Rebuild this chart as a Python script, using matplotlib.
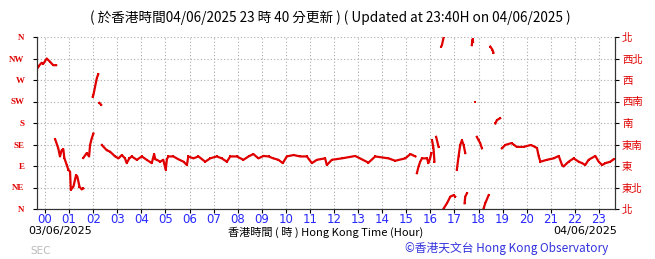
import matplotlib.pyplot as plt
import numpy as np

plt.rcParams['font.family'] = ['Noto Sans CJK TC', 'DejaVu Sans']

nan = np.nan

# wind direction (degrees) against hour of 04/06/2025; nan breaks a segment
hours = [-0.33, -0.25, -0.14, -0.07, 0.07, 0.21, 0.34, 0.46, nan,
         0.42, 0.55, 0.62, 0.69, 0.76, 0.80, 0.90, 0.97, 1.04, 1.07, 1.18, 1.29, 1.34, 1.43, 1.52, 1.59, nan,
         1.59, 1.73, 1.83, 1.87, 1.94, 2.01, nan,
         1.98, 2.01, 2.08, 2.15, 2.21, nan,
         2.26, 2.33, nan,
         2.36, 2.56, 2.70, 2.91, 3.05, 3.19, 3.32, 3.39, 3.50, 3.60, 3.81, 4.02, 4.22, 4.43, 4.53, 4.58,
         4.64, 4.78, 4.91, 5.01, 5.06, 5.12, 5.33, 5.54, 5.75, 5.89, 5.95, 6.16, 6.37, 6.65, 6.86, 7.13,
         7.34, 7.55, 7.69, 7.96, 8.24, 8.45, 8.65, 8.86, 9.07, 9.28, 9.48, 9.69, 9.87, 10.04, 10.32,
         10.59, 10.87, 11.08, 11.29, 11.63, 11.70, 11.91, 12.33, 12.88, 13.43, 13.71, 14.26, 14.54,
         14.96, 15.17, 15.38, nan,
         15.44, 15.51, 15.58, 15.65, 15.86, 15.92, 15.99, 16.04, nan,
         16.07, 16.13, 16.17, nan,
         16.24, 16.32, 16.34, nan,
         16.45, 16.48, 16.55, nan,
         16.55, 16.69, 16.83, 16.97, 17.03, nan,
         17.10, 17.17, 17.24, 17.31, 17.38, 17.45, nan,
         17.42, 17.45, 17.52, nan,
         17.72, 17.75, 17.77, nan,
         17.86, nan,
         17.93, 18.00, 18.07, 18.14, nan,
         18.21, 18.28, 18.42, nan,
         18.49, 18.58, 18.62, nan,
         18.70, 18.76, 18.90, nan,
         18.97, 19.11, 19.37, 19.48, 19.59, 19.87, 20.17, 20.35, 20.43, 20.50, 20.57, 20.84, 21.12,
         21.33, 21.47, 21.53, 21.74, 21.95, 22.16, 22.30, 22.43, 22.57, 22.85, 22.99, 23.13, 23.27,
         23.47, 23.61]
deg = [293, 300, 306, 304, 315, 308, 301, 301, nan,
       146, 127, 110, 123, 125, 107, 92, 82, 78, 40, 47, 71, 68, 47, 41, 43, nan,
       107, 117, 110, 134, 148, 158, nan,
       235, 239, 256, 274, 282, nan,
       222, 218, nan,
       134, 123, 120, 110, 106, 113, 106, 96, 106, 110, 103, 110, 103, 96, 115, 104,
       103, 99, 103, 82, 104, 110, 110, 104, 99, 92, 110, 106, 110, 99, 106, 110,
       106, 99, 110, 110, 103, 110, 115, 106, 111, 110, 106, 103, 96, 110, 113,
       110, 110, 96, 103, 106, 92, 103, 106, 111, 97, 110, 106, 101,
       106, 115, 110, nan,
       75, 89, 99, 106, 106, 96, 106, 117, nan,
       144, 127, 99, nan,
       151, 134, 130, nan,
       340, 343, 359, nan,
       1, 12, 26, 29, 26, nan,
       82, 110, 134, 144, 134, 117, nan,
       12, 26, 33, nan,
       343, 355, 350, nan,
       225, nan,
       151, 144, 138, 127, nan,
       1, 12, 29, nan,
       340, 333, 327, nan,
       179, 186, 190, nan,
       127, 134, 138, 134, 130, 130, 134, 130, 127, 110, 99, 103, 106,
       111, 92, 89, 99, 106, 99, 96, 92, 103, 111, 99, 92, 96,
       99, 104]

dir_ticks = [0, 45, 90, 135, 180, 225, 270, 315, 360]
en_labels = ['N', 'NE', 'E', 'SE', 'S', 'SW', 'W', 'NW', 'N']
zh_labels = ['北', '東北', '東', '東南', '南', '西南', '西', '西北', '北']
hour_ticks = list(range(24))
hour_labels = ['%02d' % h for h in hour_ticks]

red = '#e00000'
blue = '#2828ff'

fig = plt.figure(figsize=(6.55, 2.59), dpi=100)
ax = fig.add_axes([37/655, 1-209/259, 578/655, 172/259])

ax.plot(hours, deg, '-', color=red, lw=1.6, marker='s', ms=2, mew=0)

ax.set_xlim(-1/3, 23 + 2/3)
ax.set_ylim(0, 360)
ax.set_xticks(hour_ticks)
ax.set_xticklabels(hour_labels, color=blue, fontsize=8.5, family='DejaVu Sans')
ax.set_yticks(dir_ticks)
ax.set_yticklabels(en_labels, color=red, fontsize=6.5, family='Liberation Serif', weight='bold')
ax.tick_params(axis='x', length=3, pad=0)
ax.tick_params(axis='y', length=3, pad=6)
ax.grid(True, color='#aaaaaa', linestyle=(0, (1, 2)), linewidth=0.8)

ax2 = ax.twinx()
ax2.set_ylim(0, 360)
ax2.set_yticks(dir_ticks)
ax2.set_yticklabels(zh_labels, color=red, fontsize=7.5)
ax2.tick_params(axis='y', length=3, pad=2)

for a in (ax, ax2):
    a.spines['top'].set_visible(False)
    a.spines['left'].set_color('#333333')
    a.spines['right'].set_color('#333333')
    a.spines['bottom'].set_color('#333333')

fig.text(330/655, 1-18/259, '( 於香港時間04/06/2025 23 時 40 分更新 ) ( Updated at 23:40H on 04/06/2025 )',
         ha='center', va='center', fontsize=9.8)
fig.text(28/655, 1-231/259, '03/06/2025', ha='left', va='center', fontsize=8, family='DejaVu Sans')
fig.text(326/655, 1-232/259, '香港時間 ( 時 ) Hong Kong Time (Hour)', ha='center', va='center', fontsize=8)
fig.text(617/655, 1-231/259, '04/06/2025', ha='right', va='center', fontsize=8, family='DejaVu Sans')
fig.text(30/655, 1-251/259, 'SEC', ha='left', va='center', fontsize=7.5, color='#bbbbbb',
         family='DejaVu Sans')
fig.text(608/655, 1-248/259, '©香港天文台 Hong Kong Observatory', ha='right', va='center',
         fontsize=8.5, color='#3333dd')

plt.savefig('out.png', dpi=100)
